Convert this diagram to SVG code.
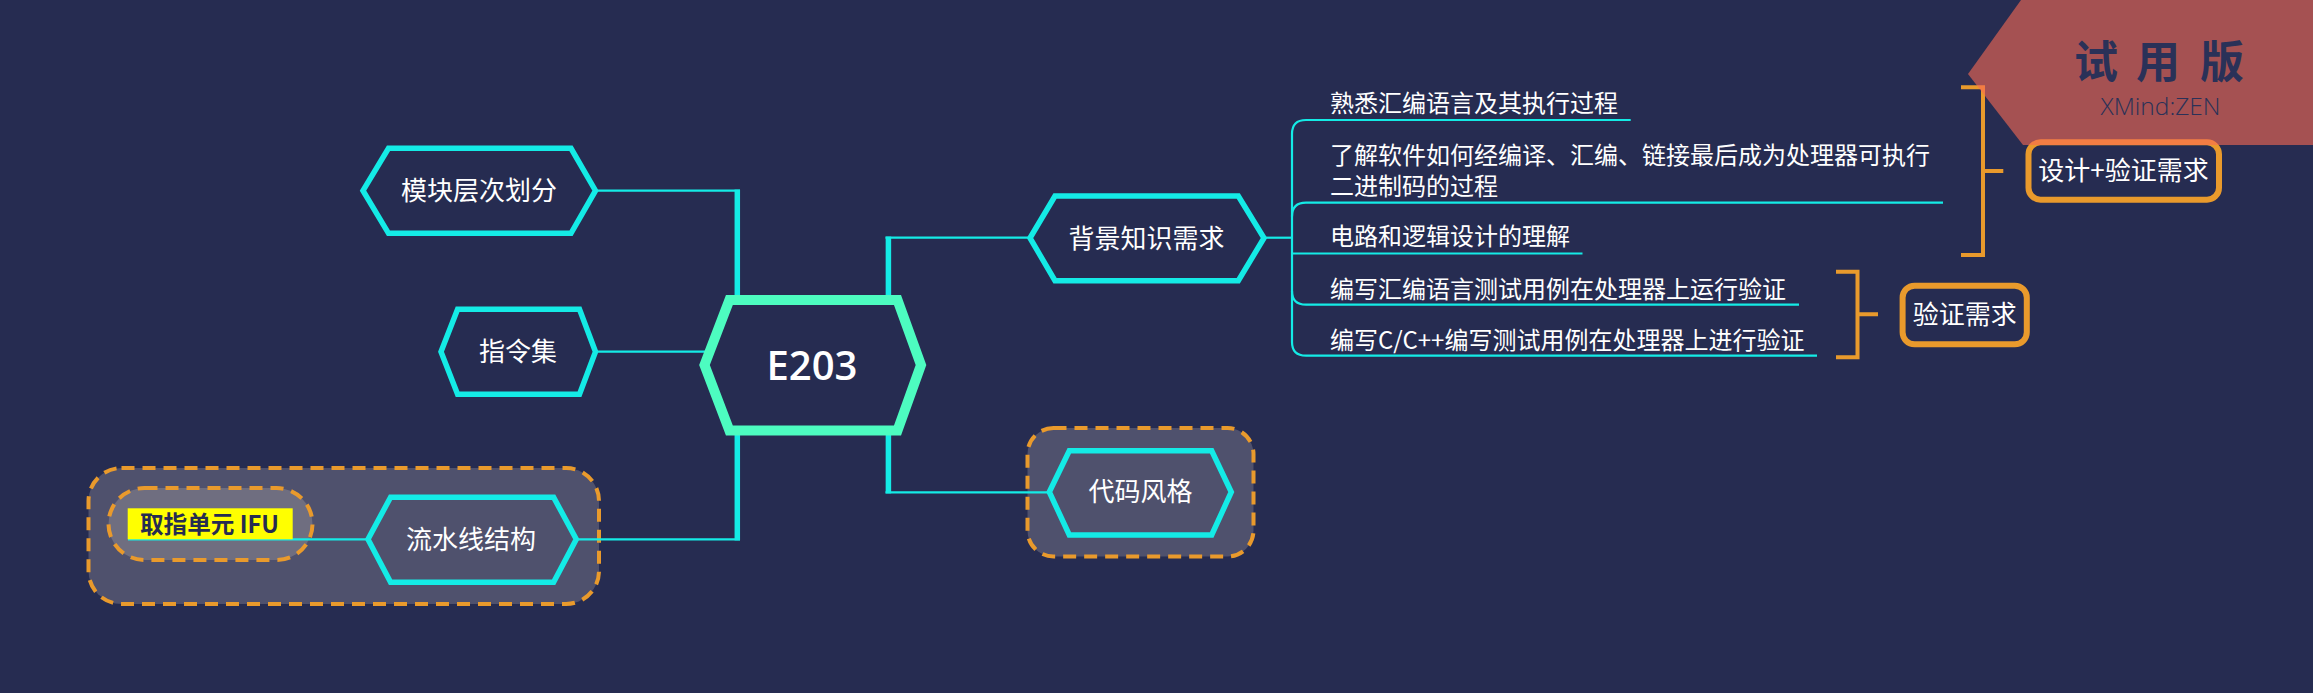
<svg xmlns="http://www.w3.org/2000/svg" width="2313" height="693" viewBox="0 0 2313 693">
<style>
.bg{fill:#262c51}
.hex{fill:#262c51;stroke:#14ebe6;stroke-width:5.5;stroke-linejoin:miter}
.hexb{fill:#4f516d;stroke:#14ebe6;stroke-width:5.5}
.root{fill:#262c51;stroke:#4dfcc0;stroke-width:10}
.lbl{font-family:"Noto Sans CJK SC","Noto Sans",sans-serif;font-size:26px;fill:#ffffff;text-anchor:middle}
.sub{font-family:"Noto Sans CJK SC","Noto Sans",sans-serif;font-size:24px;fill:#ffffff}
.ln{fill:none;stroke:#14ebe6;stroke-width:2.2}
.lnv{fill:none;stroke:#14ebe6;stroke-width:5.5}
.bound{stroke:#e99a2c;stroke-width:4;stroke-dasharray:13 8}
.brk{fill:none;stroke:#e99a2c;stroke-width:4}
.sum{fill:#262c51;stroke:#e99a2c;stroke-width:6}
</style>
<rect class="bg" x="0" y="0" width="2313" height="693"/>

<g id="boundaries">
<rect class="bound" x="88.5" y="468" width="510.5" height="136" rx="33" fill="#4f516d"/>
<rect class="bound" x="108.5" y="488" width="204" height="72" rx="36" fill="#6f6e80"/>
<rect class="bound" x="1027.5" y="428" width="226" height="128.5" rx="26" fill="#4f516d"/>
</g>

<g id="connectors">
<path class="ln" d="M595.5,190.7 H740"/>
<path class="lnv" d="M737.3,189.6 V301"/>
<path class="ln" d="M595.5,351.7 H706"/>
<path class="lnv" d="M737.3,430 V540.4"/>
<path class="ln" d="M576.3,539.3 H740"/>
<path class="lnv" d="M888.4,301 V236.6"/>
<path class="ln" d="M885.5,237.7 H1030"/>
<path class="lnv" d="M888.4,430 V493.4"/>
<path class="ln" d="M885.5,492.3 H1049"/>
<path class="ln" d="M366,539.3 H128"/>
<path class="ln" d="M1264,237.7 H1292"/>
<path class="ln" d="M1292,134 V342"/>
<path class="ln" d="M1292,134 Q1292,120 1306,120 H1630.7"/>
<path class="ln" d="M1292,216.5 Q1292,202.7 1306,202.7 H1943"/>
<path class="ln" d="M1292,253.5 H1582.5"/>
<path class="ln" d="M1292,291 Q1292,304.7 1306,304.7 H1799"/>
<path class="ln" d="M1292,342 Q1292,355.7 1306,355.7 H1817"/>
<path class="brk" d="M1961,87.3 H1983 V255 H1961 M1983,171 H2003.3"/>
<path class="brk" d="M1836,271.7 H1857.5 V357.3 H1836 M1857.5,314.3 H1878"/>
</g>

<g id="node-root">
<polygon class="root" points="704.5,365 729.4,300 897.5,300 921,365 897.5,430.5 729.4,430.5"/>
<text x="812" y="379.5" font-family="'Open Sans','Noto Sans',sans-serif" font-size="40" font-weight="600" fill="#ffffff" text-anchor="middle">E203</text>
</g>

<g id="node-mokuai">
<polygon class="hex" points="363,190.7 388.5,148.3 571,148.3 595.5,190.7 571,233.3 388.5,233.3"/>
<text class="lbl" x="479" y="200">模块层次划分</text>
</g>

<g id="node-zhiling">
<polygon class="hex" points="441,351.7 457.6,309.2 579.5,309.2 595.5,351.7 579.5,394.2 457.6,394.2"/>
<text class="lbl" x="518" y="361">指令集</text>
</g>

<g id="node-liushui">
<polygon class="hexb" points="368,539.3 390.6,497.2 553.6,497.2 576.3,539.3 553.6,582.2 390.6,582.2"/>
<text class="lbl" x="471" y="548.7">流水线结构</text>
</g>

<g id="node-ifu">
<rect x="127.7" y="508.3" width="165" height="31" fill="#ffff00"/>
<text x="140" y="532.5" textLength="139" lengthAdjust="spacingAndGlyphs" font-family="'Noto Sans CJK SC','Noto Sans',sans-serif" font-size="24" font-weight="700" fill="#262c51">取指单元 IFU</text>
</g>

<g id="node-beijing">
<polygon class="hex" points="1030,238 1055,196 1238.3,196 1264,238 1238.3,280.7 1055,280.7"/>
<text class="lbl" x="1146.5" y="247.5">背景知识需求</text>
</g>

<g id="node-daima">
<polygon class="hexb" points="1049.3,492 1069.3,450.7 1211.7,450.7 1231.3,492 1211.7,535 1069.3,535"/>
<text class="lbl" x="1140.5" y="501.3">代码风格</text>
</g>

<g id="node-c1"><text class="sub" x="1330" y="112">熟悉汇编语言及其执行过程</text></g>
<g id="node-c2"><text class="sub" x="1330" y="163.5">了解软件如何经编译、汇编、链接最后成为处理器可执行</text><text class="sub" x="1330" y="195.2">二进制码的过程</text></g>
<g id="node-c3"><text class="sub" x="1330" y="245.3">电路和逻辑设计的理解</text></g>
<g id="node-c4"><text class="sub" x="1330" y="297.6">编写汇编语言测试用例在处理器上运行验证</text></g>
<g id="node-c5"><text class="sub" x="1330" y="348.6">编写C/C++编写测试用例在处理器上进行验证</text></g>

<g id="node-sum1">
<rect class="sum" x="2028.5" y="142.3" width="190.5" height="57.4" rx="12"/>
<text class="lbl" x="2123.5" y="180.4">设计+验证需求</text>
</g>

<g id="node-sum2">
<rect class="sum" x="1902.6" y="285.7" width="124.2" height="58.6" rx="12"/>
<text class="lbl" x="1964.7" y="324.4">验证需求</text>
</g>

<g id="banner">
<polygon points="2021,0 2313,0 2313,145 2023,145 1968,74" fill="#fa6b53" fill-opacity="0.6"/>
<text x="2096 2127 2158 2190 2222" y="78" font-family="'Noto Sans CJK SC',sans-serif" font-size="44" font-weight="700" fill="#2a3158" text-anchor="middle">试 用 版</text>
<text x="2160.5" y="115" font-family="'Open Sans','Noto Sans',sans-serif" font-size="24.5" font-weight="300" fill="#2a3158" text-anchor="middle">XMind:ZEN</text>
</g>
</svg>
